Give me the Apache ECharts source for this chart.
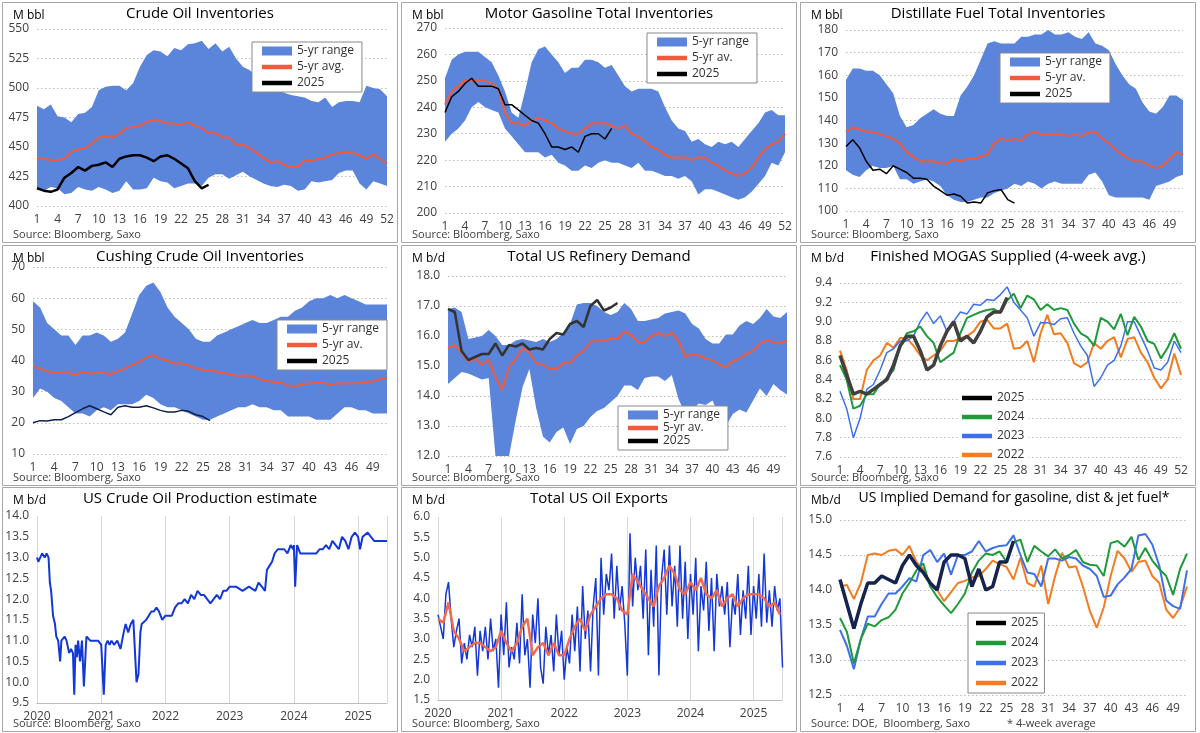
<!DOCTYPE html>
<html><head><meta charset="utf-8">
<script src="https://cdn.jsdelivr.net/npm/echarts@6/dist/echarts.min.js"></script>
<style>html,body{margin:0;padding:0;background:#fff}#c{width:1200px;height:733px}</style>
</head><body><div id="c"></div>
<script>
// ---------- DATA ----------
const crudeHigh=[485,482,486,476,475,471,478,479,484,498,501,502,502,498,504,518,528,532,531,527,534,532,537,538,540,533,538,531,535,525,518,515,510,503,503,499,496,494,493,492,489,488,492,484,488,489,489,488,502,500,499,493];
const crudeLow=[415,413,416,415,410,411,416,414,413,416,414,411,413,421,414,414,415,424,421,420,415,417,419,419,417,424,427,427,423,426,429,425,422,419,417,416,418,417,413,414,421,420,421,422,428,430,430,419,414,421,419,417];
const crudeAvg=[440,440,439,439,440,446,448,449,453,458,459,458,461,466,467,468,471,473,472,470,470,469,471,468,466,462,462,458,458,452,452,449,445,441,437,438,435,433,433,439,438,440,441,444,445,446,445,443,440,444,440,436];
const crude2025=[415,413,412,414,424,428,433,430,434,435,437,433,440,442,443,443,441,438,442,443,440,436,432,421,415,418];

const gasHigh=[251,258,260,261,261,261,259,257,252,246,238,236,246,257,262,263,260,257,253,255,255,258,258,257,255,256,252,248,246,247,247,247,246,240,235,232,231,227,228,226,225,227,226,227,225,228,231,234,238,239,237,237];
const gasLow=[227,230,232,235,240,242,240,239,238,232,229,226,223,223,223,221,222,219,218,216,216,218,217,219,220,219,219,218,217,219,216,216,215,214,214,213,214,212,207,209,209,208,207,206,205,206,208,211,214,219,218,223];
const gasAvg=[241,246,248,250,250,250,250,249,247,238,234,234,233,235,236,235,234,232,231,230,230,232,234,234,234,233,232,233,230,229,227,225,224,222,221,221,221,220,221,221,219,218,216,215,214,215,217,221,224,226,227,230];
const gas2025=[238,244,246,249,251,248,248,248,247,241,241,239,237,235,234,230,225,225,224,225,223,229,230,230,228,232];

const distHigh=[158,163,163,162,162,160,156,152,142,137,138,141,143,145,143,142,142,151,155,160,167,174,175,174,174,174,177,177,178,178,180,178,178,179,177,176,179,174,173,171,165,160,156,154,148,144,143,146,151,151,149];
const distLow=[118,116,115,118,120,119,119,120,114,114,112,113,114,113,111,107,105,104,104,105,106,106,108,109,110,112,111,113,112,110,112,113,112,112,112,112,116,117,113,107,106,106,106,106,106,105,111,112,113,115,116];
const distAvg=[135,137,136,135,135,134,133,132,130,126,124,122,122,122,121,121,123,122,123,123,124,125,130,132,131,132,131,134,135,134,134,134,134,133,134,133,135,135,132,130,127,125,123,122,122,120,119,120,123,126,125];
const dist2025=[128.5,131.5,128,122,118,118.5,116.5,120,118.5,117,114.5,114.5,114,111,109,107,107.5,106.5,103.5,104,103.5,108,109,109.5,105,103.5];

const cushHigh=[59,57,52,50,48,48,45,48,48,49,48,46,47,49,55,61,64,65,62,57,54,52,50,47,46,46,48,49,50,51,52,53,52,52,53,54,54,56,57,59,60,60,61,60,61,60,59,58,58,58,58];
const cushLow=[28,31,30,28,27,25,23,23,22,24,25,24,26,26,26,27,29,28,26,25,25,24,23,22,21,21,22,23,24,25,25,26,25,25,24,24,22,22,22,22,21,21,21,23,25,25,24,24,23,23,23];
const cushAvg=[38,37.5,36.5,36.3,36,36,35.5,36.2,35.8,36,36,35.7,36.5,37.5,38.5,39.5,41,41.7,40.5,40,39,39,38.5,37.5,37,36.7,36.5,36,35.5,35,35.2,35,34,33.5,33.2,33,32,31.8,32.3,32.7,32.8,32.8,32.3,32.7,32.6,32.7,32.7,33.2,33.3,34,34.5];
const cush2025=[20,20.7,20.6,21,21,22,23.3,24.5,25.5,24.5,23.5,22.6,25,25.5,25,25,25.5,24.8,24,23.5,23.5,24,23.7,22.6,22,20.7];

const refHigh=[16.9,16.95,16.8,15.9,15.95,16.0,16.2,16.0,15.7,15.7,15.85,15.9,15.85,15.8,15.9,15.8,15.9,16.1,16.4,17.05,17.1,17.1,17.0,16.8,16.7,16.8,17.1,16.9,16.5,16.5,16.55,16.6,16.75,16.8,16.85,16.75,16.4,16.25,15.9,15.75,15.75,16.05,16.05,16.35,16.5,16.4,16.6,16.9,16.65,16.6,16.8];
const refLow=[14.4,14.6,14.8,14.75,14.65,14.55,14.6,12.0,12.0,12.0,13.2,14.3,14.9,13.6,12.65,12.45,12.8,12.95,12.4,12.9,13.0,13.3,13.5,13.6,13.8,14.0,14.35,14.35,14.2,14.6,14.65,14.65,14.5,14.7,13.9,13.4,13.55,13.75,13.7,13.85,13.35,13.0,13.4,13.55,13.45,13.85,14.25,14.0,14.4,14.2,14.05];
const refAvg=[15.6,15.7,15.45,15.15,15.25,15.05,15.2,14.65,14.2,14.95,15.25,15.6,15.45,15.1,15.05,14.9,14.9,15.1,15.1,15.35,15.5,15.8,15.85,15.85,15.9,15.9,16.15,16.05,15.8,15.8,16.0,16.1,16.0,16.1,15.85,15.3,15.4,15.35,15.25,15.2,15.05,14.95,15.15,15.25,15.4,15.5,15.75,15.85,15.8,15.75,15.85];
const ref2025=[16.9,16.8,15.5,15.2,15.3,15.4,15.4,15.75,15.35,15.7,15.65,15.75,15.55,15.6,15.55,15.9,16.1,16.05,16.4,16.5,16.3,17.0,17.2,16.85,16.95,17.1];

const mog2022=[8.7,8.5,8.2,8.2,8.5,8.6,8.65,8.78,8.73,8.83,8.83,8.75,8.65,8.6,8.65,8.7,8.8,8.8,8.83,8.85,8.9,9.0,9.02,8.93,8.93,8.98,8.72,8.73,8.8,8.58,8.88,9.07,8.87,8.88,8.78,8.57,8.53,8.58,8.78,8.72,8.8,8.84,8.63,8.82,8.84,8.68,8.58,8.42,8.31,8.4,8.67,8.45];
const mog2023=[8.28,8.1,7.8,8.0,8.3,8.35,8.5,8.68,8.72,8.8,8.8,8.85,9.0,9.1,8.98,9.06,8.9,9.0,9.1,9.08,9.18,9.17,9.23,9.22,9.28,9.36,9.2,9.12,9.04,8.85,8.99,8.99,8.97,9.03,9.04,8.88,8.75,8.65,8.33,8.42,8.55,8.6,8.75,9.0,9.0,8.85,8.7,8.52,8.5,8.58,8.8,8.68];
const mog2024=[8.55,8.4,8.1,8.13,8.25,8.25,8.35,8.42,8.5,8.75,8.88,8.9,8.95,8.85,8.78,8.58,8.63,8.68,8.88,9.04,9.07,9.1,9.12,9.13,9.09,9.22,9.29,9.14,9.27,9.23,9.12,9.18,9.12,9.14,9.12,8.98,8.88,8.84,8.75,9.04,9.0,8.92,9.08,8.86,9.05,8.95,8.8,8.77,8.62,8.73,8.88,8.72];
const mog2025=[8.65,8.45,8.25,8.28,8.25,8.3,8.35,8.4,8.55,8.75,8.85,8.85,8.7,8.5,8.55,8.75,8.9,9.0,8.8,8.85,8.78,8.9,9.05,9.1,9.1,9.25];

const prodX=[2020.00,2020.02,2020.05,2020.08,2020.12,2020.15,2020.18,2020.2,2020.22,2020.25,2020.28,2020.3,2020.33,2020.36,2020.38,2020.4,2020.43,2020.46,2020.5,2020.53,2020.56,2020.58,2020.6,2020.62,2020.64,2020.67,2020.7,2020.73,2020.75,2020.77,2020.8,2020.83,2020.86,2020.9,2020.95,2021.0,2021.04,2021.07,2021.1,2021.13,2021.16,2021.2,2021.25,2021.3,2021.35,2021.38,2021.42,2021.46,2021.5,2021.55,2021.58,2021.61,2021.63,2021.66,2021.7,2021.74,2021.78,2021.82,2021.86,2021.9,2021.95,2022.0,2022.05,2022.1,2022.15,2022.2,2022.25,2022.3,2022.35,2022.4,2022.45,2022.5,2022.55,2022.6,2022.65,2022.7,2022.75,2022.8,2022.85,2022.9,2022.95,2023.0,2023.05,2023.1,2023.2,2023.3,2023.4,2023.45,2023.5,2023.55,2023.58,2023.62,2023.66,2023.7,2023.75,2023.8,2023.85,2023.9,2023.95,2023.99,2024.0,2024.02,2024.05,2024.1,2024.2,2024.3,2024.35,2024.4,2024.45,2024.5,2024.55,2024.6,2024.65,2024.7,2024.75,2024.8,2024.85,2024.9,2024.95,2025.0,2025.03,2025.07,2025.1,2025.15,2025.2,2025.25,2025.3,2025.35,2025.4,2025.45];
const prodY=[13.0,12.9,13.0,13.1,13.0,13.1,13.0,12.4,12.2,11.6,11.4,11.1,11.0,10.5,11.0,11.0,11.1,11.0,10.7,10.8,10.7,9.7,10.9,10.6,11.0,10.5,11.0,9.9,10.5,11.1,11.1,11.0,11.0,11.0,11.0,10.9,9.7,10.9,11.0,10.9,11.0,10.9,11.0,10.8,11.2,11.4,11.2,11.4,11.5,10.0,10.2,11.2,11.4,11.4,11.5,11.6,11.7,11.7,11.8,11.7,11.5,11.6,11.6,11.6,11.8,11.9,11.9,12.0,11.9,12.1,12.0,12.2,12.1,12.1,12.0,11.9,12.0,12.1,12.0,12.2,12.2,12.3,12.3,12.3,12.2,12.3,12.2,12.4,12.3,12.2,12.7,12.8,12.9,13.1,13.2,13.2,13.2,13.1,13.3,13.2,13.3,12.3,13.3,13.1,13.1,13.1,13.1,13.2,13.2,13.3,13.2,13.4,13.3,13.2,13.5,13.4,13.2,13.5,13.6,13.5,13.2,13.5,13.5,13.6,13.5,13.4,13.4,13.4,13.4,13.4];

const expWeekly=[3.6,3.3,3.0,4.1,4.4,3.5,2.8,3.2,3.5,2.4,2.9,2.5,3.1,2.8,3.3,2.1,3.2,2.7,3.3,2.5,3.5,2.7,3.0,1.8,
3.6,2.6,3.9,2.3,2.8,2.5,3.4,2.4,4.1,2.6,3.0,1.8,3.6,2.9,4.0,2.3,1.9,3.3,2.6,3.1,2.2,3.6,2.6,3.2,
2.0,2.8,2.4,3.6,2.7,3.8,2.2,4.3,3.0,3.7,2.2,3.8,4.5,2.1,5.0,3.6,4.6,4.2,5.1,3.5,4.8,3.7,4.3,3.4,
2.1,5.6,3.8,5.0,4.2,4.8,3.5,5.2,2.6,4.7,3.3,5.3,2.1,4.5,5.2,3.6,5.3,3.8,4.8,3.3,5.3,3.5,4.9,3.0,
4.6,3.6,5.0,2.7,4.3,3.7,4.9,3.2,4.5,2.7,4.6,3.8,4.3,3.6,4.4,2.8,4.0,3.6,4.6,3.1,4.2,3.5,4.8,3.1,
4.3,3.5,4.6,3.3,5.1,3.4,4.2,3.3,4.3,3.7,4.0,2.3];
const expAvg=[3.5,3.4,3.9,3.2,3.0,2.7,2.8,2.9,2.9,2.8,2.7,2.8,
3.2,2.9,2.7,2.9,3.3,3.5,2.6,2.8,2.9,2.6,2.9,2.6,
2.6,3.0,3.3,3.5,3.2,3.6,3.8,4.0,4.1,4.1,4.0,3.7,
3.6,4.6,4.4,4.2,4.0,3.8,4.3,4.5,4.8,4.6,4.2,4.1,
4.4,4.2,4.5,4.1,4.0,4.2,3.8,4.0,4.1,3.8,4.0,4.1,
4.1,4.1,4.0,3.8,3.9,3.6];

const dem2022=[14.05,14.07,13.87,14.1,14.5,14.52,14.5,14.56,14.58,14.5,14.63,14.4,14.3,14.08,14.0,13.84,13.97,14.1,14.13,14.18,14.2,14.3,14.42,14.37,14.33,14.15,14.46,14.1,14.05,14.35,13.8,14.2,14.53,14.32,14.34,14.05,13.7,13.46,13.75,14.2,14.56,14.45,14.26,14.4,14.42,14.2,14.1,13.72,13.6,13.75,14.05,13.65];
const dem2023=[13.43,13.2,12.87,13.3,13.62,13.62,13.8,13.95,13.95,14.05,14.17,14.12,14.5,14.57,14.4,14.52,14.22,14.5,14.5,14.55,14.7,14.55,14.6,14.63,14.64,14.78,14.5,14.25,14.23,14.05,14.45,14.45,14.42,14.47,14.45,14.35,14.3,14.2,13.9,13.92,14.08,14.18,14.3,14.78,14.8,14.65,14.35,13.85,13.77,13.73,14.28,13.87];
const dem2024=[13.6,13.4,12.95,13.3,13.52,13.48,13.57,13.61,13.72,13.95,14.1,14.28,14.38,14.05,13.9,13.78,13.67,13.8,13.95,14.25,14.42,14.52,14.5,14.55,14.4,14.68,14.72,14.4,14.63,14.55,14.48,14.58,14.45,14.5,14.57,14.4,14.36,14.35,14.2,14.67,14.7,14.62,14.76,14.43,14.6,14.42,14.3,14.2,13.93,14.3,14.52,14.32];
const dem2025=[14.15,13.8,13.45,13.8,14.1,14.1,14.2,14.15,14.1,14.35,14.5,14.35,14.25,14.1,14.0,14.4,14.5,14.5,14.45,14.05,14.3,14.0,14.05,14.4,14.4,14.7];

// ---------- BUILD ----------
const FONT='"Open Sans"';
const BAND='#5b85db', AVG='#f25a3c', C22='#f47b20', C23='#3d70ea', C24='#1f9a3a';
const cols=[2,401,800], rows=[2,245,487], PW=396, PHs=[241,241,245];
const weeks=n=>Array.from({length:n},(_,i)=>String(i+1));

const grids=[],xAxes=[],yAxes=[],series=[],legends=[],graphics=[];
const dotted={show:true,lineStyle:{color:'#bdbdbd',type:[1.5,2.5],width:1}};
function panel(idx,title,unit,source,ymin,ymax,step,o){
  const r=Math.floor(idx/3),c=idx%3;
  const px=cols[c],py=rows[r],PH=PHs[r];
  graphics.push({type:'rect',shape:{x:px+0.5,y:py+0.5,width:PW-1,height:PH-1},style:{fill:'none',stroke:'#a6a6a6',lineWidth:1},silent:true,z:-1});
  graphics.push({type:'text',x:px+PW/2+(o.tdx||0),y:py+4,style:{text:title,font:(o.tfs||15)+'px '+FONT,fill:'#000',textAlign:'center'}});
  graphics.push({type:'text',x:px+11,y:py+8,style:{text:unit,font:'12px '+FONT,fill:'#000'}});
  graphics.push({type:'text',x:px+11,y:py+PH-14,style:{text:source,font:'11px '+FONT,fill:'#404040'}});
  grids.push({left:px-2+o.l,right:1200-(px-2+o.r),top:o.t,bottom:733-o.b});
  const g=grids.length-1;
  const lab={fontFamily:FONT,fontSize:12,color:'#404040'};
  if(o.valueX){
    xAxes.push({gridIndex:g,type:'value',min:2020,max:2025.45,interval:1,axisLabel:{...lab,showMaxLabel:false,formatter:v=>String(v)},axisLine:{lineStyle:{color:'#bbb'}},axisTick:{show:false},splitLine:{show:true,lineStyle:{color:'#d9d9d9'}}});
  } else {
    xAxes.push({gridIndex:g,type:'category',data:weeks(o.n),boundaryGap:false,axisLabel:{...lab,interval:2},axisLine:{show:false},axisTick:{show:false},splitLine:{show:false}});
  }
  yAxes.push({gridIndex:g,type:'value',min:ymin,max:ymax,interval:step,axisLabel:{...lab,formatter:o.fmt||(v=>v)},axisLine:{show:false},axisTick:{show:false},splitLine:o.valueX?{show:false}:dotted});
  return g;
}
function band(g,low,high,name){
  series.push({type:'line',xAxisIndex:g,yAxisIndex:g,stack:'b'+g,data:low,symbol:'none',lineStyle:{opacity:0},silent:true,name:'base'+g});
  series.push({type:'line',xAxisIndex:g,yAxisIndex:g,stack:'b'+g,data:high.map((h,i)=>h-low[i]),symbol:'none',lineStyle:{opacity:0},areaStyle:{color:BAND,opacity:1},itemStyle:{color:BAND},name:name});
}
function line(g,data,name,color,w){
  series.push({type:'line',xAxisIndex:g,yAxisIndex:g,data:data,symbol:'none',name:name,lineStyle:{color:color,width:w},itemStyle:{color:color}});
}
function legend(names,left,top,o={}){
  legends.push({orient:'vertical',left:left,top:top,data:names.map(n=>({name:n,icon:n.indexOf('range')>=0?'rect':'path://M0,0h20v3h-20z'})),itemWidth:o.iw||30,itemHeight:o.ih||9,itemGap:o.gap||4,
    textStyle:{fontFamily:FONT,fontSize:12,color:'#333'},backgroundColor:'#fff',borderColor:o.border===false?'transparent':'#888',borderWidth:1,padding:o.pad||[3,8,3,10],selectedMode:false});
}
const SRC='Source: Bloomberg, Saxo';
// 1
let g=panel(0,'Crude Oil Inventories','M bbl',SRC,400,550,25,{n:52,l:37,r:387,t:29,b:206});
band(g,crudeLow,crudeHigh,'5-yr range');line(g,crudeAvg,'5-yr avg.',AVG,2);line(g,crude2025,'2025','#000',2.5);
legend(['5-yr range','5-yr avg.','2025'],252,42);
// 2
g=panel(1,'Motor Gasoline Total Inventories','M bbl',SRC,200,270,10,{n:52,l:46,r:386,t:28,b:213});
band(g,gasLow,gasHigh,'5-yr range');line(g,gasAvg,'5-yr av.',AVG,2);line(g,gas2025,'2025','#000',1.5);
legend(['5-yr range','5-yr av.','2025'],647,33);
// 3
g=panel(2,'Distillate Fuel Total Inventories','M bbl',SRC,100,180,10,{n:51,l:48,r:385,t:30,b:211});
band(g,distLow,distHigh,'5-yr range');line(g,distAvg,'5-yr av.',AVG,2);line(g,dist2025,'2025','#000',1.5);
legend(['5-yr range','5-yr av.','2025'],1000,53);
// 4
g=panel(3,'Cushing Crude Oil Inventories','M bbl',SRC,10,70,10,{n:51,l:33,r:387,t:267,b:454});
band(g,cushLow,cushHigh,'5-yr range');line(g,cushAvg,'5-yr av.',AVG,2);line(g,cush2025,'2025','#10204a',1.5);
legend(['5-yr range','5-yr av.','2025'],277,320);
// 5
g=panel(4,'Total US Refinery Demand','M b/d',SRC,12,18,1,{n:51,fmt:v=>v.toFixed(1),l:49,r:388,t:276,b:456});
band(g,refLow,refHigh,'5-yr range');line(g,refAvg,'5-yr av.',AVG,2);line(g,ref2025,'2025','#333',2.5);
legend(['5-yr range','5-yr av.','2025'],618,406,{gap:1});
// 6
g=panel(5,'Finished MOGAS Supplied (4-week avg.)','M b/d',SRC,7.6,9.4,0.2,{n:52,fmt:v=>v.toFixed(1),tdx:10,l:42,r:383,t:283,b:457});
line(g,mog2022,'2022',C22,2);line(g,mog2023,'2023',C23,1.5);line(g,mog2024,'2024',C24,2);line(g,mog2025,'2025','#404040',3.5);
legend(['2025','2024','2023','2022'],958,390,{border:false,gap:7,iw:30,pad:[2,4,2,4]});
// 7
g=panel(6,'US Crude Oil Production estimate','M b/d',SRC,9.5,14,0.5,{valueX:true,fmt:v=>v.toFixed(1),l:37,r:387,t:516,b:703});
series.push({type:'line',xAxisIndex:g,yAxisIndex:g,data:prodX.map((x,i)=>[x,prodY[i]]),symbol:'none',lineStyle:{color:'#1238d6',width:2}});
// 8
g=panel(7,'Total US Oil Exports','M b/d',SRC,1.5,6,0.5,{valueX:true,fmt:v=>v.toFixed(1),l:39,r:383,t:517,b:700});
series.push({type:'line',xAxisIndex:g,yAxisIndex:g,data:expWeekly.map((v,i)=>[2020+i/24,v]),symbol:'none',lineStyle:{color:'#1238d6',width:1.5}});
series.push({type:'line',xAxisIndex:g,yAxisIndex:g,data:expAvg.map((v,i)=>[2020+i/12,v]),symbol:'none',lineStyle:{color:'#ee6a50',width:2.5}});
// 9
g=panel(8,'US Implied Demand for gasoline, dist & jet fuel*','Mb/d','Source: DOE,  Bloomberg, Saxo',12.5,15,0.5,{n:51,fmt:v=>v.toFixed(1),l:42,r:389,t:520,b:695,tdx:16,tfs:14});
line(g,dem2022.slice(0,51),'2022',C22,2);line(g,dem2023.slice(0,51),'2023',C23,2);line(g,dem2024.slice(0,51),'2024',C24,2);line(g,dem2025,'2025','#14244f',3.5);
legend(['2025','2024','2023','2022'],968,613,{gap:8,iw:30,pad:[4,6,4,8]});
graphics.push({type:'text',x:1007,y:718,style:{text:'* 4-week average',font:'11px '+FONT,fill:'#404040'}});

const chart=echarts.init(document.getElementById('c'),null,{renderer:'canvas'});
chart.setOption({animation:false,grid:grids,xAxis:xAxes,yAxis:yAxes,series:series,legend:legends,graphic:graphics});
</script></body></html>
